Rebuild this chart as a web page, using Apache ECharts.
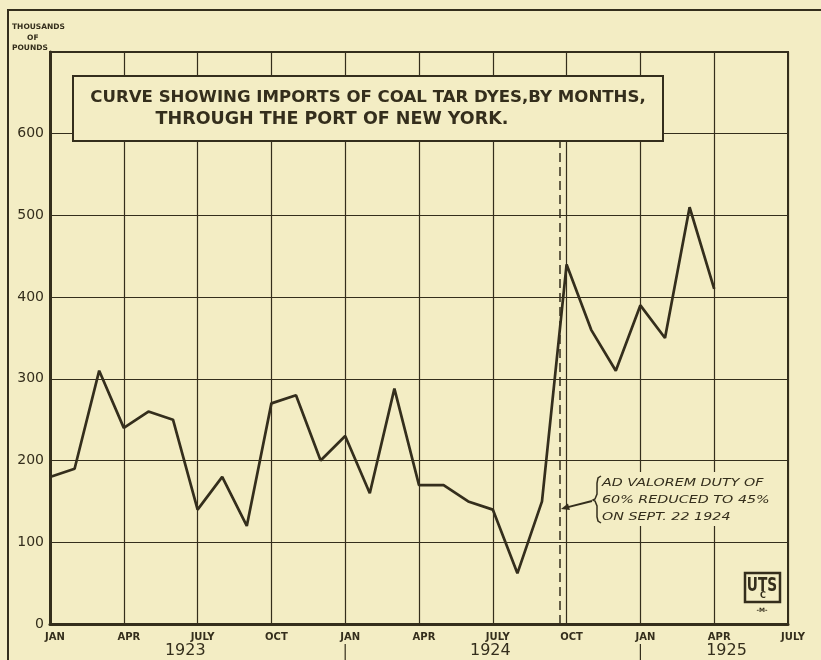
<!DOCTYPE html>
<html>
<head>
<meta charset="utf-8">
<script src="https://cdn.jsdelivr.net/npm/echarts@6/dist/echarts.min.js"></script>
<style>
html, body { margin: 0; padding: 0; background: #f3edc4; }
#chart { width: 821px; height: 660px; }
</style>
</head>
<body>
<div id="chart"></div>
<script>
// monthly imports, Jan 1923 .. Apr 1925 (thousands of pounds)
var months = ['1923-01','1923-02','1923-03','1923-04','1923-05','1923-06','1923-07','1923-08','1923-09','1923-10','1923-11','1923-12',
              '1924-01','1924-02','1924-03','1924-04','1924-05','1924-06','1924-07','1924-08','1924-09','1924-10','1924-11','1924-12',
              '1925-01','1925-02','1925-03','1925-04'];
var imports = [180, 190, 310, 240, 260, 250, 140, 180, 120, 270, 280, 200,
               230, 160, 288, 170, 170, 150, 140, 62, 150, 440, 360, 310,
               390, 350, 510, 410];
var tickLabels = ['JAN','APR','JULY','OCT','JAN','APR','JULY','OCT','JAN','APR','JULY'];
var years = ['1923', '1924', '1925'];
var yearAt = [5.5, 17.9, 27.5];      // where each year label sits (months from Jan 1923)
var dutyChange = 20.73;              // Sept. 22 1924, months from Jan 1923
var titleLines = ['CURVE SHOWING IMPORTS OF COAL TAR DYES,BY MONTHS,', 'THROUGH THE PORT OF NEW YORK.'];
var noteLines = ['AD VALOREM DUTY OF', '60% REDUCED TO 45%', 'ON SEPT. 22 1924'];
var unitLines = ['THOUSANDS', 'OF', 'POUNDS'];

var ink = '#342e1c';
var paper = '#f3edc4';
var font = 'DejaVu Sans';

var chart = echarts.init(document.getElementById('chart'));

var option = {
    backgroundColor: paper,
    animation: false,
    grid: { left: 50, right: 33, top: 52, bottom: 36, show: true, borderColor: ink, borderWidth: 2 },
    xAxis: {
        type: 'value', min: 0, max: 30, interval: 3,
        axisLine: { show: true, lineStyle: { color: ink, width: 3 } },
        axisTick: { show: false },
        splitLine: { show: true, lineStyle: { color: ink, width: 1.2 } },
        axisLabel: {
            color: ink, fontSize: 10, fontWeight: 'bold', fontFamily: font, margin: 8,
            padding: [0, 0, 0, 10], showMaxLabel: true, showMinLabel: true,
            formatter: function (v) { return tickLabels[Math.round(v / 3)]; }
        }
    },
    yAxis: {
        type: 'value', min: 0, max: 700, interval: 100,
        axisLine: { show: true, lineStyle: { color: ink, width: 3 } },
        axisTick: { show: false },
        splitLine: { show: true, lineStyle: { color: ink, width: 1.2 } },
        axisLabel: {
            color: ink, fontSize: 14, fontFamily: font, margin: 6,
            formatter: function (v) { return v === 700 ? '' : String(v); }
        }
    },
    series: [{
        type: 'line',
        data: imports.map(function (v, i) { return [i, v]; }),
        showSymbol: false,
        lineStyle: { color: ink, width: 2.7 },
        z: 5,
        markLine: {
            silent: true, symbol: 'none', label: { show: false },
            lineStyle: { color: ink, width: 1.5, type: [9, 5] },
            data: [[{ xAxis: dutyChange, yAxis: 0 }, { xAxis: dutyChange, yAxis: 590 }]]
        }
    }]
};
chart.setOption(option);

function px(x, y) { return chart.convertToPixel({ gridIndex: 0 }, [x, y]); }

var g = [];
// outer page frame
g.push({ type: 'polyline', shape: { points: [[8, 660], [8, 10], [821, 10]] }, style: { stroke: ink, lineWidth: 2, fill: null }, z: 100 });

// unit label
g.push({ type: 'text', x: 12, y: 23, style: { text: unitLines[0], fill: ink, font: 'bold 7.5px ' + font }, z: 100 });
g.push({ type: 'text', x: 27, y: 34, style: { text: unitLines[1], fill: ink, font: 'bold 7.5px ' + font }, z: 100 });
g.push({ type: 'text', x: 12, y: 44, style: { text: unitLines[2], fill: ink, font: 'bold 7.5px ' + font }, z: 100 });

// title box
g.push({ type: 'rect', shape: { x: 73, y: 76, width: 590, height: 65 }, style: { fill: paper, stroke: ink, lineWidth: 2 }, z: 100 });
g.push({ type: 'text', x: 368, y: 98, style: { text: titleLines[0], fill: ink, font: 'bold 16.6px ' + font, align: 'center', verticalAlign: 'middle' }, z: 101 });
g.push({ type: 'text', x: 332, y: 119, style: { text: titleLines[1], fill: ink, font: 'bold 17.5px ' + font, align: 'center', verticalAlign: 'middle' }, z: 101 });

// year labels and separators
years.forEach(function (yr, i) {
    var p = px(yearAt[i], 0);
    g.push({ type: 'text', x: p[0], y: 651, style: { text: yr, fill: ink, font: '16px ' + font, align: 'center', verticalAlign: 'middle' }, z: 100 });
});
[12, 24].forEach(function (m) {
    var p = px(m, 0);
    g.push({ type: 'line', shape: { x1: p[0], y1: 644, x2: p[0], y2: 660 }, style: { stroke: ink, lineWidth: 1.2 }, z: 100 });
});

// annotation
var tip = px(dutyChange, 140);
g.push({ type: 'rect', shape: { x: 600, y: 472, width: 174, height: 54 }, style: { fill: paper }, z: 90 });
g.push({ type: 'polyline', shape: { points: [[601, 476], [598, 478], [597, 483], [597, 494], [595, 499], [593, 500], [595, 501], [597, 506], [597, 517], [598, 521], [601, 523]] },
         style: { stroke: ink, lineWidth: 1.5, fill: null }, z: 101 });
noteLines.forEach(function (t, i) {
    g.push({ type: 'text', x: 602, y: 483 + i * 17, scaleX: 1.3,
             style: { text: t, fill: ink, font: 'italic 11px ' + font, verticalAlign: 'middle' }, z: 101 });
});
g.push({ type: 'line', shape: { x1: 592, y1: 501, x2: tip[0] + 6, y2: tip[1] - 2 }, style: { stroke: ink, lineWidth: 2 }, z: 101 });
g.push({ type: 'polygon', shape: { points: [[tip[0] + 1, tip[1] - 0.5], [tip[0] + 10, tip[1] + 0.5], [tip[0] + 8, tip[1] - 6]] }, style: { fill: ink }, z: 101 });

// UTC stamp
g.push({ type: 'rect', shape: { x: 745, y: 573, width: 35, height: 29 }, style: { fill: paper, stroke: ink, lineWidth: 2.5 }, z: 100 });
g.push({ type: 'text', x: 762, y: 586, scaleX: 0.72, style: { text: 'UTS', fill: ink, font: 'bold 19px ' + font, align: 'center', verticalAlign: 'middle' }, z: 101 });
g.push({ type: 'text', x: 763, y: 596, style: { text: 'C', fill: ink, font: 'bold 8px ' + font, align: 'center', verticalAlign: 'middle' }, z: 102 });
g.push({ type: 'text', x: 762, y: 610, style: { text: '-M-', fill: ink, font: 'bold 6px ' + font, align: 'center', verticalAlign: 'middle' }, z: 101 });

chart.setOption({ graphic: g });
</script>
</body>
</html>
